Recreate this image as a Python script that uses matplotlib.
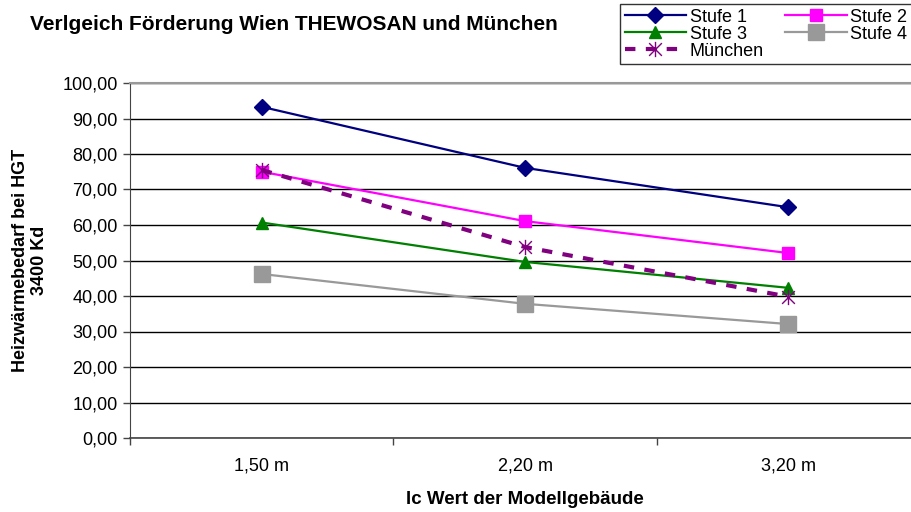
import matplotlib
matplotlib.use("Agg")
import matplotlib.pyplot as plt
from matplotlib.path import Path
from matplotlib.ticker import FixedLocator, FuncFormatter

plt.rcParams['font.family'] = ['Liberation Sans', 'DejaVu Sans']

categories = ["1,50 m", "2,20 m", "3,20 m"]
stufe1 = [93.3, 76.1, 65.0]
stufe2 = [75.0, 61.1, 52.1]
stufe3 = [60.7, 49.6, 42.3]
stufe4 = [46.2, 37.8, 32.1]
muenchen = [75.5, 53.8, 39.8]

title = "Verlgeich Förderung Wien THEWOSAN und München"
xlabel = "lc Wert der Modellgebäude"
ylabel = "Heizwärmebedarf bei HGT\n3400 Kd"

# Star marker: X plus a vertical stroke
star = Path([(-1, -1), (1, 1), (-1, 1), (1, -1), (0, -1.2), (0, 1.2)],
            [Path.MOVETO, Path.LINETO, Path.MOVETO, Path.LINETO, Path.MOVETO, Path.LINETO])

fig = plt.figure(figsize=(9.11, 5.12), dpi=100)
ax = fig.add_axes([130 / 911, 1 - 438 / 512, 790 / 911, 355 / 512])

x = list(range(len(categories)))
h1, = ax.plot(x, stufe1, color="#000080", lw=1.6, marker="D", ms=8, mfc="#000080", mec="#000080", label="Stufe 1", zorder=5)
h2, = ax.plot(x, stufe2, color="#FF00FF", lw=1.6, marker="s", ms=8.5, mfc="#FF00FF", mec="#FF00FF", label="Stufe 2", zorder=5)
h3, = ax.plot(x, stufe3, color="#008000", lw=1.6, marker="^", ms=9, mfc="#008000", mec="#008000", label="Stufe 3", zorder=5)
h4, = ax.plot(x, stufe4, color="#999999", lw=1.6, marker="s", ms=11.5, mfc="#999999", mec="#999999", label="Stufe 4", zorder=5)
h5, = ax.plot(x, muenchen, color="#800080", lw=3, ls=(0, (2.5, 2.5)), marker=star, ms=11, mew=1.0,
              mfc="none", mec="#800080", label="München", zorder=6)

ax.set_xlim(-0.5, 2.5)
ax.set_ylim(0, 100)
ax.yaxis.set_major_locator(FixedLocator([i * 10 for i in range(11)]))
ax.yaxis.set_major_formatter(FuncFormatter(lambda v, p: f"{v:.2f}".replace(".", ",")))
ax.set_xticks(x)
ax.set_xticklabels(categories)
ax.xaxis.set_minor_locator(FixedLocator([-0.5, 0.5, 1.5, 2.5]))
ax.tick_params(axis="x", which="major", length=0, pad=14, labelsize=13)
ax.tick_params(axis="x", which="minor", length=5, width=1, color="#444444")
ax.tick_params(axis="y", length=5, width=1, color="#444444", labelsize=13, pad=4)

ax.grid(axis="y", color="black", lw=1)
ax.set_axisbelow(True)
ax.spines["right"].set_visible(False)
ax.spines["top"].set_color("#999999")
ax.spines["top"].set_linewidth(1.5)
ax.spines["left"].set_color("#444444")
ax.spines["bottom"].set_color("#444444")
ax.spines["bottom"].set_linewidth(1.2)

ax.set_xlabel(xlabel, fontsize=13.5, fontweight="bold", labelpad=12)
ax.set_ylabel(ylabel, fontsize=13, fontweight="bold", labelpad=10)

fig.text(30 / 911, 1 - 25 / 512, title, fontsize=15, fontweight="bold", va="center", ha="left")

handles = [h1, h3, h5, h2, h4]
leg = fig.legend(handles, [h.get_label() for h in handles], loc="upper left",
                 bbox_to_anchor=(620 / 911, 1 - 4 / 512), ncol=2, fontsize=13,
                 frameon=True, fancybox=False, edgecolor="black", handlelength=3.4,
                 handletextpad=0.2, columnspacing=1.2, labelspacing=0.0, borderpad=0.25,
                 borderaxespad=0)
leg.get_frame().set_linewidth(1)

fig.savefig("out.png", dpi=100)
